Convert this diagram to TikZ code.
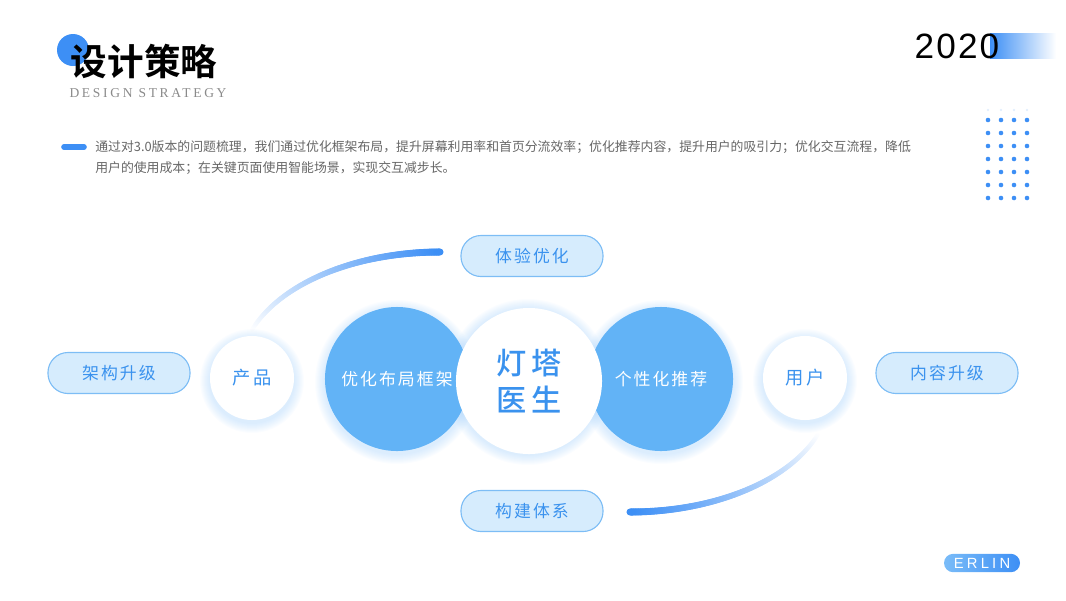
\documentclass[tikz,border=0pt]{standalone}
\usepackage{fontspec}
\setmainfont{Liberation Sans}
\newfontfamily\cjk{Noto Sans CJK SC}
\newfontfamily\cjkbold{Noto Sans CJK SC Bold}
\newfontfamily\cjkmedium[LetterSpace=17]{Noto Sans CJK SC Medium}
\newfontfamily\cjkspaced[LetterSpace=12]{Noto Sans CJK SC}
\newfontfamily\spacedserif[LetterSpace=20]{Liberation Serif}
\newfontfamily\yearfont[LetterSpace=6]{Liberation Sans}
\newfontfamily\badgefont[LetterSpace=22]{Liberation Sans}
\usepackage{xcolor}
\usepackage{tikz}
\usetikzlibrary{positioning}

\definecolor{mainblue}{HTML}{3D8FF5}
\definecolor{circblue}{HTML}{62B3F6}
\definecolor{pillfill}{HTML}{D6ECFD}
\definecolor{pillline}{HTML}{7DBDF5}
\definecolor{textblue}{HTML}{3A92EE}
\definecolor{graytext}{HTML}{666666}
\definecolor{subgray}{HTML}{8A8A8A}
\definecolor{glowblue}{HTML}{8CC4FA}
\definecolor{badgelight}{HTML}{7ABCF8}

\tikzset{
	bluecirc/.style={circle, fill=circblue, minimum size=3.6cm, inner sep=0pt, text=white, font=\cjkspaced\fontsize{12}{14}\selectfont},
	whitecirc/.style={circle, fill=white, inner sep=0pt, text=textblue},
	smallcirc/.style={whitecirc, minimum size=2.1cm, font=\cjkspaced\fontsize{13}{15}\selectfont},
	pill/.style={rectangle, rounded corners=0.5cm, fill=pillfill, draw=pillline, line width=0.8pt, minimum width=3.55cm, minimum height=1.025cm, text=textblue, font=\cjkspaced\fontsize{12}{14}\selectfont},
	partext/.style={anchor=west, inner sep=0pt, text=graytext, font=\cjk\fontsize{9.15}{11}\selectfont},
	arcline/.style={line cap=round},
}

\begin{document}
\begin{tikzpicture}[x=0.025cm, y=-0.025cm]
			
			% canvas, pixel coordinates
			\useasboundingbox (0,0) rectangle (1066,600);
			
			% Title block
			\fill[mainblue] (73,50) circle (16);
			\node[inner sep=0pt, font=\cjkbold\fontsize{26}{28}\selectfont] (title) at (144,61) {设计策略};
			\node[inner sep=0pt, text=subgray, font=\spacedserif\fontsize{9.6}{11}\selectfont] (subtitle) at (148,93) {DESIGN STRATEGY};
			
			% Year with fading bar
			\shade[left color=mainblue, right color=white] (990,33) rectangle (1056,58);
			\node[inner sep=0pt, font=\yearfont\fontsize{25}{28}\selectfont] (year) at (957,46) {2020};
			
			% Dot grid
			\foreach \x in {988,1001,1014,1027} {
				\fill[mainblue!15] (\x,110) circle (1.3);
				\foreach \y in {120,133,...,198}
				\fill[mainblue] (\x,\y) circle (2.3);
			}
			
			% Intro text
			\draw[mainblue, line width=4pt, line cap=round] (64,147) -- (84,147);
			\node[partext] (line1) at (95,147) {通过对3.0版本的问题梳理，我们通过优化框架布局，提升屏幕利用率和首页分流效率；优化推荐内容，提升用户的吸引力；优化交互流程，降低};
			\node[partext] (line2) at (95,168) {用户的使用成本；在关键页面使用智能场景，实现交互减步长。};
			
			% Fading arcs, drawn from the faint end towards the blue end
			\foreach \i in {139,138,...,0} {
				\pgfmathsetmacro\ta{90+\i/2}
				\pgfmathsetmacro\tb{90.5+\i/2}
				\pgfmathsetmacro\pc{100-\i*0.72}
				\pgfmathsetmacro\lw{5-\i*0.015}
				\draw[arcline, line width=\lw pt, draw=mainblue!\pc!white] ({440+200*cos(\ta)},{370-118*sin(\ta)}) -- ({440+200*cos(\tb)},{370-118*sin(\tb)});
				\draw[arcline, line width=\lw pt, draw=mainblue!\pc!white] ({630+200*cos(180-\ta)},{394+118*sin(180-\ta)}) -- ({630+200*cos(180-\tb)},{394+118*sin(180-\tb)});
			}
			
			% Soft glow under the circles
			\foreach \x/\y/\r in {397/382/72, 661/382/72, 528/382/73, 252/381/42, 805/381/42} {
				\foreach \k in {1,...,10}
				\fill[glowblue, opacity=0.035] (\x,\y) circle (\r+\k);
			}
			
			% Circles
			\node[bluecirc] (layout) at (397,379) {优化布局框架};
			\node[bluecirc] (recommend) at (661,379) {个性化推荐};
			\node[whitecirc, minimum size=3.65cm, align=center, font=\cjkmedium\fontsize{21.5}{26.5}\selectfont] (core) at (529,381) {灯塔\\医生};
			\node[smallcirc] (product) at (252,378) {产品};
			\node[smallcirc] (user) at (805,378) {用户};
			
			% Pills
			\node[pill] (upgradearch) at (119,373) {架构升级};
			\node[pill] (upgradecontent) at (947,373) {内容升级};
			\node[pill] (experience) at (532,256) {体验优化};
			\node[pill] (system) at (532,511) {构建体系};
			
			% Badge
			\node[rounded corners=0.23cm, left color=badgelight, right color=mainblue, minimum width=1.9cm, minimum height=0.46cm, inner sep=0pt, text=white, font=\badgefont\fontsize{10.5}{12}\selectfont] (badge) at (982,563) {ERLIN};
			
		\end{tikzpicture}
\end{document}
